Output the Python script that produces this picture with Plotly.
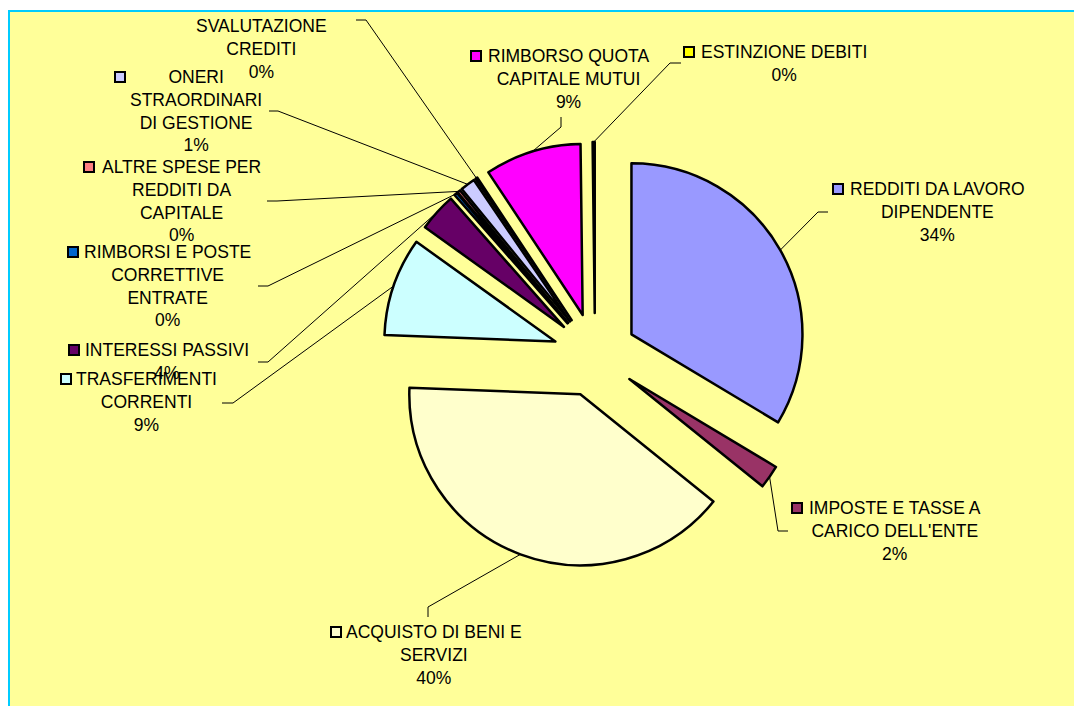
import math
import plotly.graph_objects as go

W, H = 1074, 706

# ---------------- data ----------------
categories = [
    "REDDITI DA LAVORO DIPENDENTE",
    "IMPOSTE E TASSE A CARICO DELL'ENTE",
    "ACQUISTO DI BENI E SERVIZI",
    "TRASFERIMENTI CORRENTI",
    "INTERESSI PASSIVI",
    "RIMBORSI E POSTE CORRETTIVE ENTRATE",
    "ALTRE SPESE PER REDDITI DA CAPITALE",
    "ONERI STRAORDINARI DI GESTIONE",
    "SVALUTAZIONE CREDITI",
    "RIMBORSO QUOTA CAPITALE MUTUI",
    "ESTINZIONE DEBITI",
]
values = [33.6, 2.2, 39.8, 9.3, 3.6, 0.3, 0.3, 1.4, 0.2, 9.1, 0.2]
display_labels = [
    "REDDITI DA LAVORO<br>DIPENDENTE",
    "IMPOSTE E TASSE A<br>CARICO DELL'ENTE",
    "ACQUISTO DI BENI E<br>SERVIZI",
    "TRASFERIMENTI<br>CORRENTI",
    "INTERESSI PASSIVI",
    "RIMBORSI E POSTE<br>CORRETTIVE<br>ENTRATE",
    "ALTRE SPESE PER<br>REDDITI DA<br>CAPITALE",
    "ONERI<br>STRAORDINARI<br>DI GESTIONE",
    "SVALUTAZIONE<br>CREDITI",
    "RIMBORSO QUOTA<br>CAPITALE MUTUI",
    "ESTINZIONE DEBITI",
]
colors = ["#9999FF", "#993366", "#FFFFCC", "#CCFFFF", "#660066", "#0066CC",
          "#FF8080", "#CCCCFF", "#000080", "#FF00FF", "#FFFF00"]
show_key = [True, True, True, True, True, True, True, True, False, True, True]

# ---------------- layout (pixels) ----------------
CX, CY, R, PULL = 595, 355, 171, 0.245
FS = 17.5
LH = 1.3 * FS
label_pos = [(937, 189), (895, 508), (434, 632), (146, 379), (167, 350), (167, 252),
             (181, 167), (196, 77), (261, 26), (568, 56), (784, 52)]
key_pos = [(838, 189), (797, 508), (336, 632), (66, 379), (74, 350), (73, 252),
           (89, 167), (120, 77), None, (476, 56), (689, 52)]
elbows = [[(828, 212), (818, 212)], [(788, 531), (778, 531)], [(428, 617), (428, 607)],
          [(222, 403), (233, 403)], [(258, 362), (268, 362)], [(258, 286), (268, 286)],
          [(267, 201), (277, 201)], [(269, 111), (278, 111)], [(356, 20), (366, 20)],
          [(561, 117), (561, 127)], [(681, 63), (670, 63)]]


def px(x):
    return x / W


def py(y):
    return 1 - y / H


half = R * (1 + PULL)
fig = go.Figure(go.Pie(
    labels=categories, values=values, sort=False, direction="clockwise", rotation=0,
    marker=dict(colors=colors, line=dict(color="black", width=2.5)),
    pull=[PULL] * len(values), textinfo="none", hoverinfo="label+percent",
    showlegend=False,
    domain=dict(x=[px(CX - half), px(CX + half)], y=[py(CY + half), py(CY - half)]),
))

shapes = [dict(type="rect", xref="paper", yref="paper", layer="below",
               x0=px(9), x1=px(W + 5), y0=py(H + 5), y1=py(11),
               fillcolor="#FFFF99", line=dict(color="#00CCFF", width=2))]
annotations = []
total = sum(values)
cum = 0.0
for i, v in enumerate(values):
    mid = (cum + v / 2) / total * 2 * math.pi
    cum += v
    ax = CX + R * (1 + PULL) * math.sin(mid)
    ay = CY - R * (1 + PULL) * math.cos(mid)
    pts = elbows[i] + [(ax, ay)]
    path = "M " + " L ".join(f"{px(x)},{py(y)}" for x, y in pts)
    shapes.append(dict(type="path", xref="paper", yref="paper", path=path,
                       line=dict(color="black", width=1)))
    pct = f"{round(v / total * 100)}%"
    text = display_labels[i] + "<br>" + pct
    n = text.count("<br>") + 1
    lx, ly = label_pos[i]
    annotations.append(dict(x=px(lx), y=py(ly + (n - 1) * LH / 2), xref="paper", yref="paper",
                            text=text, showarrow=False, xanchor="center", yanchor="middle",
                            align="center", font=dict(size=FS, color="black")))
    if show_key[i]:
        kx, ky = key_pos[i]
        shapes.append(dict(type="rect", xref="paper", yref="paper",
                           x0=px(kx - 5), x1=px(kx + 5), y0=py(ky + 5), y1=py(ky - 5),
                           fillcolor=colors[i], line=dict(color="black", width=2)))

fig.update_layout(
    width=W, height=H, margin=dict(l=0, r=0, t=0, b=0),
    paper_bgcolor="white", plot_bgcolor="white",
    font=dict(family="Liberation Sans, Arial, sans-serif", size=FS, color="black"),
    shapes=shapes, annotations=annotations,
)

fig.write_html("out.html", config={"displayModeBar": False},
               post_script="document.body.style.margin='0';document.body.style.overflow='hidden';")
